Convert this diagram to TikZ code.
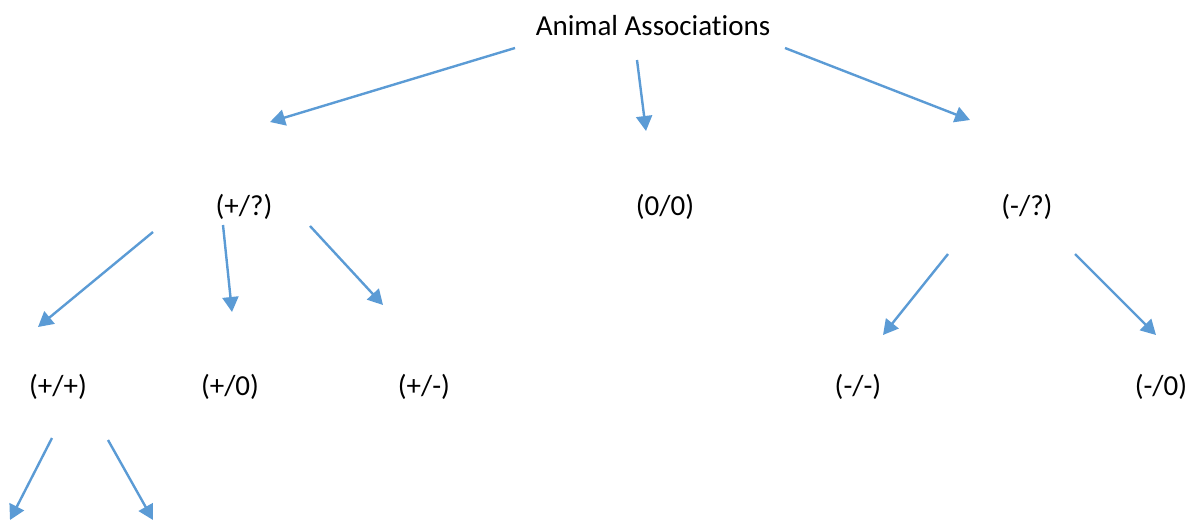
\documentclass[tikz,border=0pt]{standalone}
\usepackage{fontspec}
\setmainfont[Ligatures=NoCommon]{Carlito}
\usetikzlibrary{arrows.meta}
\definecolor{arrowblue}{HTML}{5B9BD5}
\begin{document}
\begin{tikzpicture}[x=1pt,y=-1pt,
  lbl/.style={font=\fontsize{29}{34}\selectfont, inner sep=0pt, anchor=center},
  conn/.style={draw=arrowblue, line width=2.4pt, -{Triangle[length=15pt,width=16pt]}}]
\useasboundingbox (0,0) rectangle (1196,520);
\node[lbl] (root) at (653,26) {Animal Associations};
\node[lbl] (pq) at (244,207) {(+/?)};
\node[lbl] (zz) at (665,207) {(0/0)};
\node[lbl] (mq) at (1027,207) {(-/?)};
\node[lbl] (pp) at (58,387) {(+/+)};
\node[lbl] (pz) at (230,387) {(+/0)};
\node[lbl] (pm) at (424,387) {(+/-)};
\node[lbl] (mm) at (858,387) {(-/-)};
\node[lbl] (mz) at (1161,387) {(-/0)};
% free-ended connector points
\coordinate (s1) at (515,48);  \coordinate (e1) at (270,122);
\coordinate (s2) at (637,60);  \coordinate (e2) at (646,131);
\coordinate (s3) at (785,48);  \coordinate (e3) at (970,120);
\coordinate (s4) at (153,232); \coordinate (e4) at (38,327);
\coordinate (s5) at (223,225); \coordinate (e5) at (232,312);
\coordinate (s6) at (310,226); \coordinate (e6) at (383,305);
\coordinate (s7) at (948,254); \coordinate (e7) at (883,335);
\coordinate (s8) at (1075,254);\coordinate (e8) at (1156,335);
\coordinate (s9) at (52,438);  \coordinate (e9) at (10,520);
\coordinate (s10) at (108,440);\coordinate (e10) at (153,520);
\draw[conn] (s1) -- (e1);
\draw[conn] (s2) -- (e2);
\draw[conn] (s3) -- (e3);
\draw[conn] (s4) -- (e4);
\draw[conn] (s5) -- (e5);
\draw[conn] (s6) -- (e6);
\draw[conn] (s7) -- (e7);
\draw[conn] (s8) -- (e8);
\draw[conn] (s9) -- (e9);
\draw[conn] (s10) -- (e10);
\end{tikzpicture}
\end{document}
